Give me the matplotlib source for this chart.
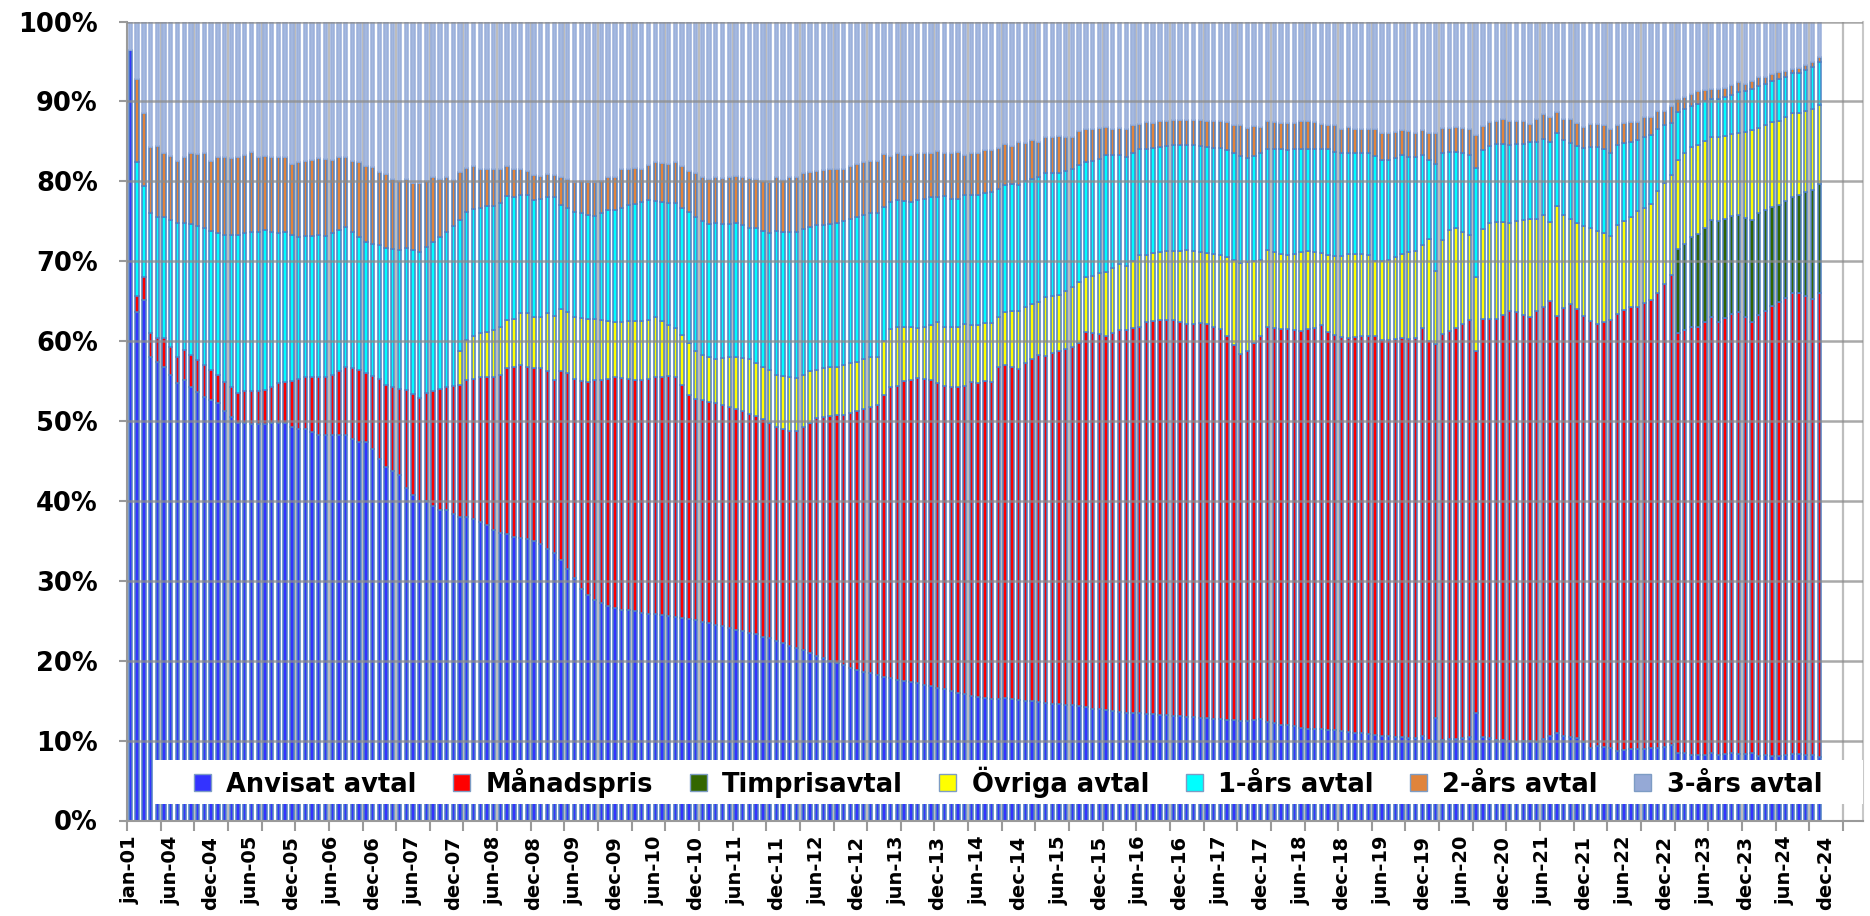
import numpy as np
import matplotlib
matplotlib.use("Agg")
import matplotlib.pyplot as plt
from matplotlib.patches import Patch, Rectangle

# ---------------- data (percent of customers, upper edge of each layer) -------------
top_anvisat = [
    96.4, 63.6, 65.1, 58.0, 57.4, 56.8, 55.8, 54.7, 55.1, 54.3,
    53.6, 53.0, 52.6, 52.2, 51.3, 50.5, 49.7, 49.7, 49.6, 49.6,
    49.6, 49.7, 49.7, 49.7, 49.3, 49.0, 49.0, 48.6, 48.2, 48.2,
    48.2, 48.2, 48.2, 47.8, 47.4, 47.4, 46.5, 45.3, 44.3, 43.8,
    43.3, 41.6, 40.8, 40.0, 40.0, 39.4, 38.8, 38.8, 38.4, 38.0,
    38.0, 37.7, 37.4, 37.0, 36.4, 36.0, 35.8, 35.5, 35.3, 35.2,
    35.0, 34.6, 34.0, 33.5, 32.6, 31.5, 30.3, 29.0, 28.2, 27.6,
    27.2, 26.9, 26.6, 26.4, 26.3, 26.2, 26.0, 25.9, 25.8, 25.7,
    25.6, 25.5, 25.4, 25.2, 25.1, 24.9, 24.7, 24.5, 24.3, 24.1,
    23.9, 23.7, 23.5, 23.3, 23.0, 22.8, 22.5, 22.2, 21.9, 21.6,
    21.3, 21.0, 20.6, 20.3, 20.0, 19.7, 19.4, 19.1, 18.8, 18.6,
    18.4, 18.2, 18.0, 17.8, 17.6, 17.4, 17.3, 17.2, 17.0, 16.8,
    16.6, 16.4, 16.2, 16.0, 15.8, 15.6, 15.4, 15.3, 15.2, 15.2,
    15.3, 15.2, 15.1, 15.0, 14.9, 14.8, 14.7, 14.6, 14.6, 14.5,
    14.4, 14.3, 14.2, 14.0, 13.9, 13.8, 13.7, 13.6, 13.5, 13.4,
    13.4, 13.3, 13.3, 13.2, 13.2, 13.1, 13.1, 13.0, 12.9, 12.8,
    12.8, 12.7, 12.7, 12.6, 12.6, 12.5, 12.4, 12.6, 12.7, 12.3,
    12.2, 12.0, 11.9, 11.8, 11.6, 11.5, 11.5, 11.4, 11.3, 11.3,
    11.2, 11.1, 11.0, 10.9, 10.8, 10.7, 10.6, 10.6, 10.5, 10.5,
    10.3, 10.3, 10.6, 10.1, 12.8, 10.1, 10.2, 10.2, 10.3, 10.5,
    13.5, 10.4, 10.3, 10.1, 10.1, 10.0, 9.8, 9.9, 9.9, 9.8,
    10.2, 10.6, 11.0, 10.6, 10.4, 10.3, 9.8, 9.1, 9.3, 9.2,
    9.1, 8.7, 8.8, 8.9, 8.9, 9.0, 9.1, 9.1, 9.2, 9.5,
    8.5, 8.4, 8.2, 8.2, 8.2, 8.4, 8.2, 8.3, 8.4, 8.3,
    8.3, 8.4, 8.1, 8.2, 8.1, 8.1, 8.2, 8.3, 8.3, 8.2,
    8.2, 8.0,
]

top_manadspris = [
    96.4, 65.7, 68.0, 61.0, 60.45, 60.45, 59.2, 58.0, 58.9, 58.2,
    57.6, 57.0, 56.4, 55.8, 54.9, 54.2, 53.5, 53.7, 53.7, 53.7,
    53.9, 54.3, 54.7, 54.9, 55.0, 55.2, 55.5, 55.5, 55.5, 55.5,
    55.8, 56.2, 56.8, 56.6, 56.4, 56.0, 55.6, 55.2, 54.5, 54.2,
    54.0, 53.9, 53.4, 52.9, 53.5, 53.8, 54.0, 54.2, 54.4, 54.5,
    55.1, 55.3, 55.5, 55.5, 55.5, 55.8, 56.6, 56.8, 57.0, 56.8,
    56.6, 56.6, 56.3, 55.1, 56.3, 56.0, 55.2, 55.0, 54.9, 55.1,
    55.1, 55.2, 55.5, 55.4, 55.3, 55.1, 55.1, 55.2, 55.5, 55.5,
    55.6, 55.5, 54.5, 53.3, 52.8, 52.6, 52.4, 52.2, 52.0, 51.8,
    51.5, 51.2, 50.9, 50.6, 50.3, 49.8, 49.3, 49.0, 48.8, 48.8,
    49.2, 49.8, 50.4, 50.5, 50.6, 50.7, 50.8, 51.0, 51.2, 51.5,
    51.8, 52.0, 53.2, 54.2, 54.4, 55.0, 55.1, 55.4, 55.2, 55.1,
    54.75, 54.4, 54.2, 54.3, 54.4, 54.9, 54.75, 54.95, 54.9, 56.7,
    57.0, 56.75, 56.5, 57.3, 57.8, 58.2, 58.1, 58.5, 58.8, 59.0,
    59.3, 59.7, 61.2, 61.0, 60.9, 60.7, 61.0, 61.4, 61.4, 61.6,
    61.8, 62.4, 62.5, 62.7, 62.7, 62.6, 62.4, 62.1, 62.2, 62.25,
    62.1, 61.8, 61.5, 60.7, 59.5, 58.4, 58.75, 59.8, 60.7, 61.8,
    61.6, 61.5, 61.5, 61.4, 61.3, 61.5, 61.7, 62.0, 61.1, 60.8,
    60.5, 60.4, 60.5, 60.6, 60.7, 60.7, 60.1, 60.1, 60.3, 60.45,
    60.3, 60.45, 61.6, 60.0, 59.6, 60.9, 61.3, 61.6, 62.2, 62.7,
    58.8, 62.8, 62.8, 62.8, 63.3, 63.8, 63.6, 63.3, 63.0, 63.8,
    64.3, 65.0, 63.1, 64.2, 64.7, 64.0, 63.2, 62.5, 62.2, 62.4,
    62.7, 63.4, 63.9, 64.3, 64.3, 64.8, 65.2, 66.0, 67.2, 68.25,
    61.0, 61.4, 61.8, 61.75, 62.4, 63.0, 62.4, 62.9, 63.4, 63.6,
    63.0, 62.4, 63.25, 63.8, 64.4, 64.9, 65.4, 66.0, 66.0, 65.6,
    65.3, 66.0,
]

# Timprisavtal only exists for the last 22 bars
top_timpris_late = [
    71.5, 72.2, 73.0, 73.4, 74.2, 75.1, 75.0, 75.3, 75.6, 75.75,
    75.4, 75.1, 76.0, 76.4, 76.8, 77.0, 77.5, 78.0, 78.25, 78.6,
    78.9, 79.6,
]

# Övriga avtal exists from the 50th bar on
top_ovriga_late = [
    58.7,
    60.2, 60.6, 61.0, 61.2, 61.4, 61.8, 62.7, 62.8, 63.5, 63.5,
    63.0, 63.0, 63.5, 63.2, 64.0, 63.7, 63.0, 62.9, 62.8, 62.8,
    62.6, 62.5, 62.4, 62.4, 62.5, 62.5, 62.5, 62.6, 63.0, 62.5,
    62.0, 61.7, 60.8, 59.8, 58.7, 58.3, 58.0, 57.8, 57.9, 58.0,
    58.0, 57.9, 57.8, 57.3, 56.8, 56.4, 55.8, 55.6, 55.5, 55.4,
    55.8, 56.2, 56.4, 56.6, 56.8, 56.8, 57.0, 57.2, 57.4, 57.7,
    58.0, 58.0, 60.0, 61.5, 61.8, 61.8, 61.75, 61.6, 61.8, 62.0,
    62.4, 61.8, 61.75, 61.75, 62.2, 62.0, 62.0, 62.25, 62.25, 63.0,
    63.6, 63.8, 63.8, 64.25, 64.6, 64.9, 65.5, 65.6, 65.8, 66.3,
    66.8, 67.4, 68.0, 68.2, 68.5, 68.7, 69.2, 69.6, 69.4, 70.0,
    70.75, 70.75, 71.0, 71.2, 71.25, 71.25, 71.25, 71.4, 71.3, 71.2,
    71.0, 70.9, 70.75, 70.5, 70.1, 69.8, 69.9, 70.0, 70.1, 71.4,
    71.1, 70.9, 70.75, 70.9, 71.1, 71.25, 71.1, 71.0, 70.75, 70.7,
    70.6, 70.9, 70.9, 70.9, 70.75, 70.0, 70.0, 70.2, 70.5, 70.9,
    71.2, 71.3, 72.0, 72.75, 68.8, 72.7, 73.9, 74.1, 73.7, 73.25,
    68.0, 74.0, 74.8, 74.9, 74.9, 74.8, 75.0, 75.1, 75.3, 75.25,
    75.8, 74.9, 76.9, 75.8, 75.3, 74.8, 74.4, 74.1, 73.8, 73.5,
    73.2, 74.5, 75.0, 75.5, 76.25, 76.7, 77.1, 78.8, 79.8, 80.75,
    82.7, 83.5, 84.3, 84.6, 85.1, 85.6, 85.6, 85.7, 85.9, 86.1,
    86.2, 86.4, 86.7, 87.0, 87.4, 87.6, 88.0, 88.5, 88.5, 88.8,
    89.1, 89.5,
]

top_1ars = [
    96.4, 82.4, 79.4, 76.0, 75.5, 75.5, 75.1, 74.8, 74.8, 74.6,
    74.4, 74.2, 73.8, 73.5, 73.3, 73.3, 73.3, 73.5, 73.6, 73.7,
    73.9, 73.7, 73.5, 73.6, 73.3, 73.0, 73.2, 73.2, 73.3, 73.1,
    73.5, 73.9, 74.3, 73.6, 73.0, 72.4, 72.2, 72.0, 71.6, 71.5,
    71.4, 71.6, 71.4, 71.2, 71.8, 72.4, 73.0, 73.6, 74.4, 75.1,
    76.2, 76.5, 76.7, 76.9, 76.9, 77.3, 78.1, 78.0, 78.3, 78.3,
    77.7, 77.8, 78.0, 78.0, 77.0, 76.7, 76.2, 76.0, 75.8, 75.7,
    76.0, 76.4, 76.4, 76.7, 77.0, 77.2, 77.4, 77.6, 77.5, 77.4,
    77.3, 77.3, 76.7, 76.1, 75.5, 75.0, 74.6, 74.8, 74.7, 74.6,
    74.8, 74.5, 74.2, 74.2, 73.8, 73.5, 73.8, 73.7, 73.6, 73.6,
    74.0, 74.3, 74.5, 74.5, 74.6, 74.8, 75.0, 75.3, 75.5, 75.8,
    76.0, 76.0, 76.8, 77.4, 77.7, 77.5, 77.4, 77.7, 77.8, 78.0,
    78.0, 78.2, 77.8, 77.8, 78.25, 78.25, 78.3, 78.5, 78.7, 79.0,
    79.5, 79.6, 79.5, 80.1, 80.3, 80.5, 81.0, 81.0, 81.0, 81.3,
    81.6, 82.0, 82.4, 82.6, 82.8, 83.25, 83.3, 83.3, 83.0, 83.5,
    84.0, 84.1, 84.2, 84.3, 84.4, 84.5, 84.6, 84.6, 84.5, 84.4,
    84.3, 84.2, 84.2, 83.9, 83.5, 83.2, 82.9, 83.2, 83.5, 84.1,
    84.1, 84.1, 83.9, 84.0, 84.1, 84.1, 84.0, 84.0, 84.0, 83.7,
    83.5, 83.5, 83.5, 83.5, 83.5, 83.2, 82.7, 82.7, 82.9, 83.25,
    83.0, 83.0, 83.25, 82.7, 82.2, 83.5, 83.7, 83.7, 83.5, 83.3,
    81.7, 83.9, 84.4, 84.7, 84.7, 84.6, 84.7, 84.7, 84.9, 84.9,
    85.3, 84.9, 86.0, 85.2, 84.8, 84.4, 84.2, 84.3, 84.3, 84.0,
    83.6, 84.6, 84.8, 84.9, 85.2, 85.5, 85.75, 86.6, 87.0, 87.3,
    88.7, 89.0, 89.4, 89.7, 90.0, 90.25, 90.25, 90.5, 90.75, 91.2,
    91.3, 91.6, 91.9, 92.2, 92.5, 92.8, 93.1, 93.5, 93.5, 93.9,
    94.3, 94.9,
]

top_2ars = [
    96.4, 92.8, 88.6, 84.3, 84.4, 83.5, 83.2, 82.5, 83.0, 83.5,
    83.4, 83.6, 82.5, 83.1, 83.0, 82.9, 83.0, 83.3, 83.7, 83.1,
    83.2, 83.1, 83.1, 83.0, 82.2, 82.4, 82.6, 82.7, 82.9, 82.8,
    82.7, 83.0, 83.0, 82.6, 82.4, 81.9, 81.8, 81.2, 80.9, 80.3,
    80.0, 80.3, 79.8, 79.8, 80.0, 80.5, 80.3, 80.5, 80.2, 81.2,
    81.7, 81.9, 81.6, 81.5, 81.5, 81.5, 81.9, 81.5, 81.6, 81.3,
    80.8, 80.7, 80.9, 80.8, 80.5, 80.3, 79.9, 80.0, 79.9, 79.9,
    80.1, 80.6, 80.6, 81.6, 81.6, 81.7, 81.6, 82.0, 82.4, 82.3,
    82.2, 82.4, 81.9, 81.3, 81.0, 80.5, 80.3, 80.5, 80.4, 80.5,
    80.7, 80.5, 80.4, 80.3, 80.0, 79.9, 80.5, 80.2, 80.5, 80.6,
    81.0, 81.2, 81.3, 81.4, 81.6, 81.5, 81.6, 81.9, 82.2, 82.4,
    82.5, 82.6, 83.4, 83.2, 83.5, 83.3, 83.25, 83.6, 83.5, 83.6,
    83.75, 83.6, 83.5, 83.7, 83.25, 83.6, 83.6, 83.9, 83.9, 84.2,
    84.7, 84.4, 84.9, 84.8, 85.2, 84.9, 85.5, 85.5, 85.7, 85.5,
    85.5, 86.25, 86.5, 86.6, 86.7, 86.8, 86.6, 86.7, 86.5, 87.1,
    87.2, 87.4, 87.3, 87.6, 87.6, 87.7, 87.7, 87.7, 87.7, 87.7,
    87.5, 87.5, 87.5, 87.4, 87.1, 87.0, 86.7, 86.9, 86.8, 87.5,
    87.4, 87.3, 87.3, 87.3, 87.5, 87.5, 87.4, 87.2, 87.1, 87.0,
    86.6, 86.75, 86.5, 86.6, 86.5, 86.6, 86.0, 86.0, 86.2, 86.4,
    86.25, 86.1, 86.4, 86.0, 86.0, 86.7, 86.7, 86.8, 86.7, 86.6,
    85.75, 86.9, 87.4, 87.5, 87.75, 87.6, 87.6, 87.6, 87.2, 87.8,
    88.4, 88.0, 88.7, 87.8, 87.75, 87.3, 86.8, 87.2, 87.2, 87.0,
    86.6, 87.0, 87.3, 87.4, 87.4, 88.0, 88.0, 88.75, 88.8, 89.4,
    90.3, 90.5, 90.9, 91.3, 91.4, 91.6, 91.6, 91.7, 92.0, 92.4,
    92.2, 92.5, 93.0, 93.1, 93.4, 93.7, 93.8, 94.1, 94.2, 94.5,
    94.9, 95.5,
]

series_names = ["Anvisat avtal", "Månadspris", "Timprisavtal", "Övriga avtal",
                "1-års avtal", "2-års avtal", "3-års avtal"]
series_colors = ["#3333FF", "#FF0000", "#336600", "#FFFF00",
                 "#00FFFF", "#E0843C", "#95A9D6"]

tick_labels = [
    "jan-01", "jun-04", "dec-04", "jun-05", "dec-05", "jun-06", "dec-06",
    "jun-07", "dec-07", "jun-08", "dec-08", "jun-09", "dec-09", "jun-10",
    "dec-10", "jun-11", "dec-11", "jun-12", "dec-12", "jun-13", "dec-13",
    "jun-14", "dec-14", "jun-15", "dec-15", "jun-16", "dec-16", "jun-17",
    "dec-17", "jun-18", "dec-18", "jun-19", "dec-19", "jun-20", "dec-20",
    "jun-21", "dec-21", "jun-22", "dec-22", "jun-23", "dec-23", "jun-24",
    "dec-24",
]
n_categories = 258   # category slots on the axis (bars + empty slots at the end)

# ---------------- derived layer edges ----------------
n = len(top_2ars)
assert len(top_anvisat) == n and len(top_manadspris) == n and len(top_1ars) == n
top_timpris = top_manadspris[: n - len(top_timpris_late)] + top_timpris_late
top_ovriga = top_manadspris[: n - len(top_ovriga_late)] + top_ovriga_late
top_ovriga = [max(a, b) for a, b in zip(top_ovriga, top_timpris)]

edges = [np.zeros(n), np.array(top_anvisat), np.array(top_manadspris),
         np.array(top_timpris), np.array(top_ovriga), np.array(top_1ars),
         np.array(top_2ars), np.full(n, 100.0)]

# ---------------- figure ----------------
W, H = 1870, 916
fig = plt.figure(figsize=(W / 100, H / 100), dpi=100)
ax = fig.add_axes([127 / W, 95.5 / H, 1736 / W, 799 / H])

x = np.arange(n)
edge_cols = ["#5080C2"] * 6 + ["#9AAFDA"]
fill_cols = series_colors[:6] + ["#A4B8DF"]
for i in range(7):
    bottom = edges[i]
    height = edges[i + 1] - edges[i]
    m = height > 0.01
    ax.bar(x[m], height[m], bottom=bottom[m], width=0.5, color=fill_cols[i],
           edgecolor=edge_cols[i], linewidth=1.1, zorder=2)

ax.set_xlim(-0.5, n_categories - 0.5)
ax.set_ylim(0, 100)

# vertical grid lines / tick marks every 5 categories
minor_pos = np.arange(-0.5, n_categories - 0.5, 5)
ax.set_xticks(minor_pos, minor=True)
for xp in minor_pos:
    ax.axvline(xp, color="#BDBDBD", lw=1.6, zorder=1)
ax.set_xticks(np.arange(len(tick_labels)) * 6)
ax.set_xticklabels(tick_labels, rotation=90, fontsize=14, fontweight="bold",
                   family="DejaVu Sans")
ax.tick_params(axis="x", which="major", length=0, pad=11, labelsize=14)
ax.tick_params(axis="x", which="minor", length=7, width=1.5, color="#9A9A9A")

yt = np.arange(0, 101, 10)
ax.set_yticks(yt)
ax.set_yticklabels([f"{v}%" for v in yt], fontsize=18.5, fontweight="bold",
                   family="DejaVu Sans")
ax.tick_params(axis="y", length=6, width=1.5, color="#9A9A9A", pad=15)
for yv in yt[1:]:
    ax.axhline(yv, color="#8C8C8C", lw=1.8, alpha=0.75, zorder=3)

ax.spines["top"].set_visible(False)
for s in ["left", "bottom", "right"]:
    ax.spines[s].set_color("#9A9A9A")
    ax.spines[s].set_linewidth(1.5)
ax.spines["right"].set_color("#C8C8C8")

# legend: white band inside the plot, entries in one row
ax.add_patch(Rectangle((28 / 1736, 16.5 / 799), 1 - 28 / 1736, 44 / 799,
                       transform=ax.transAxes, facecolor="white",
                       edgecolor="none", zorder=9))
handles = [Patch(facecolor=c, edgecolor="#7D9CC4", linewidth=1.0) for c in series_colors]
leg = ax.legend(handles, series_names, ncol=7, loc="center left",
                bbox_to_anchor=((194 - 127) / 1736, 38.5 / 799),
                borderaxespad=0, borderpad=0, frameon=False,
                handlelength=0.66, handleheight=0.66, handletextpad=0.6,
                columnspacing=1.42,
                prop={"family": "DejaVu Sans", "weight": "bold", "size": 18.5})
leg.set_zorder(10)

fig.savefig("out.png", dpi=100, facecolor="white")
